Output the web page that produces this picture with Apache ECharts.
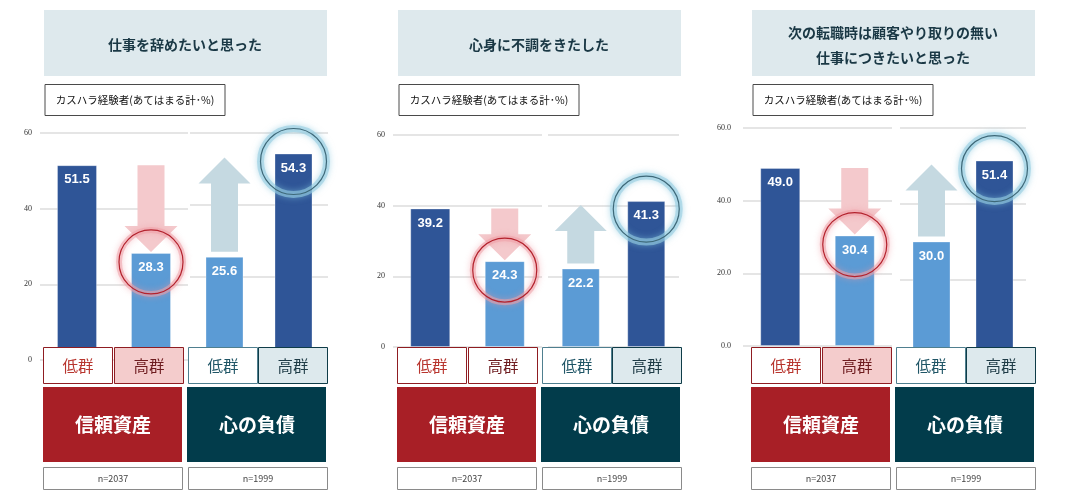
<!DOCTYPE html>
<html><head><meta charset="utf-8">
<script src="https://cdn.jsdelivr.net/npm/echarts@6/dist/echarts.min.js"></script>
<style>html,body{margin:0;padding:0;background:#fff}#c{width:1075px;height:500px}</style>
</head><body><div id="c"></div>
<script>
// ---- data ----
const panelTitles = ['仕事を辞めたいと思った', '心身に不調をきたした', '次の転職時は顧客やり取りの無い\n仕事につきたいと思った'];
const subtitleText = 'カスハラ経験者(あてはまる計･%)';
const groupCategories = ['低群', '高群'];
const groupNames = ['信頼資産', '心の負債'];
const sampleSizes = ['n=2037', 'n=1999'];
const trustValues = [[51.5, 28.3], [39.2, 24.3], [49.0, 30.4]];   // 信頼資産 低群, 高群
const debtValues  = [[25.6, 54.3], [22.2, 41.3], [30.0, 51.4]];   // 心の負債 低群, 高群
const yTicks = [0, 20, 40, 60];
const yTickDecimals = [0, 0, 1];

// ---- layout / style ----
const FONT = '"Noto Sans CJK JP", "Noto Sans", sans-serif';
const DARK = '#2f5597', LIGHT = '#5b9bd5';
const panelX = [43, 397, 751];
const gridLayout = [
  { left: 40,  width: 148, top: 133, bottom: 140, labels: true, margin: 8 },
  { left: 190, width: 138, top: 133, bottom: 151 },
  { left: 393, width: 149, top: 135, bottom: 153, labels: true, margin: 8 },
  { left: 548, width: 131, top: 135, bottom: 153 },
  { left: 743, width: 149, top: 128, bottom: 154, labels: true, margin: 12 },
  { left: 900, width: 126, top: 128, bottom: 145 }
];
const highTrustFill = ['#f4cccc', '#ffffff', '#f4cccc'];

const chart = echarts.init(document.getElementById('c'), null, { renderer: 'canvas' });

const grids = [], xAxes = [], yAxes = [], series = [];
gridLayout.forEach((g, i) => {
  const p = Math.floor(i / 2), isLeft = i % 2 === 0;
  grids.push({ left: g.left, width: g.width, top: g.top, bottom: g.bottom, containLabel: false, outerBoundsMode: 'none' });
  xAxes.push({ type: 'category', gridIndex: i, data: groupCategories, show: false });
  yAxes.push({
    type: 'value', gridIndex: i, min: yTicks[0], max: yTicks[yTicks.length - 1], interval: yTicks[1] - yTicks[0],
    axisLine: { show: false }, axisTick: { show: false },
    axisLabel: { show: !!g.labels, margin: g.margin || 8, fontSize: 8, color: '#333',
      fontFamily: '"Liberation Serif", serif', formatter: v => v.toFixed(yTickDecimals[p]) },
    splitLine: { show: true, lineStyle: { color: '#dcdcdc', width: 1.5 } }
  });
  const vals = isLeft ? trustValues[p] : debtValues[p];
  const cols = isLeft ? [DARK, LIGHT] : [LIGHT, DARK];
  series.push({
    type: 'bar', xAxisIndex: i, yAxisIndex: i, barWidth: isLeft ? 40 : 38, z: 3,
    data: vals.map((v, k) => ({ value: v, itemStyle: { color: cols[k], borderColor: 'rgba(255,255,255,0.3)', borderWidth: 1 } })),
    label: { show: true, position: 'insideTop', distance: 8, color: '#fff', fontSize: 13, fontWeight: 'bold',
      fontFamily: '"Liberation Sans", Arial, sans-serif', formatter: prm => prm.value.toFixed(1) },
    animation: false
  });
});

chart.setOption({ animation: false, grid: grids, xAxis: xAxes, yAxis: yAxes, series: series });

function pix(g, ci, v) { return chart.convertToPixel({ xAxisIndex: g, yAxisIndex: g }, [ci, v]); }

const els = [];
function rect(x, y, w, h, fill, stroke, lw, z) {
  els.push({ type: 'rect', shape: { x, y, width: w, height: h }, z: z || 50,
    style: { fill: fill, stroke: stroke || null, lineWidth: lw || 0 } });
}
function text(x, y, t, size, color, weight, z, lh) {
  els.push({ type: 'text', x, y, z: z || 51,
    style: { text: t, fill: color, fontSize: size, fontFamily: FONT, fontWeight: weight || 'normal',
      align: 'center', verticalAlign: 'middle', lineHeight: lh || size * 1.3 } });
}

panelTitles.forEach((title, p) => {
  const x0 = panelX[p];
  // title box
  rect(x0 + 1, 10, 283, 66, '#dee9ed');
  text(x0 + 142, 45, title, 14, '#1a3845', 'bold', 51, 25);
  // subtitle box
  rect(x0 + 2, 84.5, 180, 31, '#fff', '#4a4a4a', 1);
  text(x0 + 92, 100, subtitleText, 10.5, '#111');
  // group label boxes
  const lb = [
    { dx: 0,   fill: '#fff', stroke: '#8f1d22', color: '#b8352e' },
    { dx: 71,  fill: highTrustFill[p], stroke: '#8f1d22', color: '#6e1c1f' },
    { dx: 145, fill: '#fff', stroke: '#4f7f8f', color: '#1f5566' },
    { dx: 215, fill: '#dde9ed', stroke: '#0f3c48', color: '#1e3b46' }
  ];
  lb.forEach((b, k) => {
    rect(x0 + b.dx + 0.5, 347.5, 69, 36, b.fill, b.stroke, 1);
    text(x0 + b.dx + 35, 366, groupCategories[k % 2], 15.5, b.color);
  });
  // big group boxes
  rect(x0, 387, 139, 75, '#a81f26');
  text(x0 + 70, 425, groupNames[0], 19, '#fff', 'bold');
  rect(x0 + 144, 387, 139, 75, '#023c4b');
  text(x0 + 214, 425, groupNames[1], 19, '#fff', 'bold');
  // n boxes
  rect(x0 + 0.5, 467.5, 139, 22, '#fff', '#8a8a8a', 1);
  text(x0 + 70, 479, sampleSizes[0], 9, '#444');
  rect(x0 + 145.5, 467.5, 139, 22, '#fff', '#8a8a8a', 1);
  text(x0 + 215, 479, sampleSizes[1], 9, '#444');

  // arrows and circles derived from bar positions
  const gL = 2 * p, gR = 2 * p + 1;
  const b1 = pix(gL, 0, trustValues[p][0]);
  const b2 = pix(gL, 1, trustValues[p][1]);
  const b3 = pix(gR, 0, debtValues[p][0]);
  const b4 = pix(gR, 1, debtValues[p][1]);
  // down arrow (pink)
  {
    const cx = b2[0], top = b1[1], tip = b2[1] - 1, hb = tip - 26;
    els.push({ type: 'polygon', z: 1, shape: { points: [
      [cx - 13.5, top], [cx + 13.5, top], [cx + 13.5, hb], [cx + 26.5, hb], [cx, tip], [cx - 26.5, hb], [cx - 13.5, hb]
    ] }, style: { fill: '#f4c9cc' } });
  }
  // up arrow (grey-blue)
  {
    const cx = b3[0], bottom = b3[1] - 5, tip = b4[1] + 4, hb = tip + 26;
    els.push({ type: 'polygon', z: 1, shape: { points: [
      [cx - 13.5, bottom], [cx + 13.5, bottom], [cx + 13.5, hb], [cx + 26, hb], [cx, tip], [cx - 26, hb], [cx - 13.5, hb]
    ] }, style: { fill: '#c5d9e1' } });
  }
  // red circle
  els.push({ type: 'circle', z: 59, shape: { cx: b2[0], cy: b2[1] + 9, r: 32 },
    style: { fill: null, stroke: 'rgba(238,160,168,0.55)', lineWidth: 6, shadowBlur: 6, shadowColor: 'rgba(240,150,160,0.8)' } });
  els.push({ type: 'circle', z: 60, shape: { cx: b2[0], cy: b2[1] + 9, r: 32 },
    style: { fill: null, stroke: '#b3222d', lineWidth: 1.2 } });
  // blue circle
  els.push({ type: 'circle', z: 59, shape: { cx: b4[0], cy: b4[1] + 8, r: 33 },
    style: { fill: null, stroke: 'rgba(150,205,225,0.6)', lineWidth: 7, shadowBlur: 6, shadowColor: 'rgba(130,195,220,0.9)' } });
  els.push({ type: 'circle', z: 60, shape: { cx: b4[0], cy: b4[1] + 8, r: 33 },
    style: { fill: null, stroke: '#3d6878', lineWidth: 1.2 } });
});

chart.setOption({ graphic: { elements: els } });
</script>
</body></html>
